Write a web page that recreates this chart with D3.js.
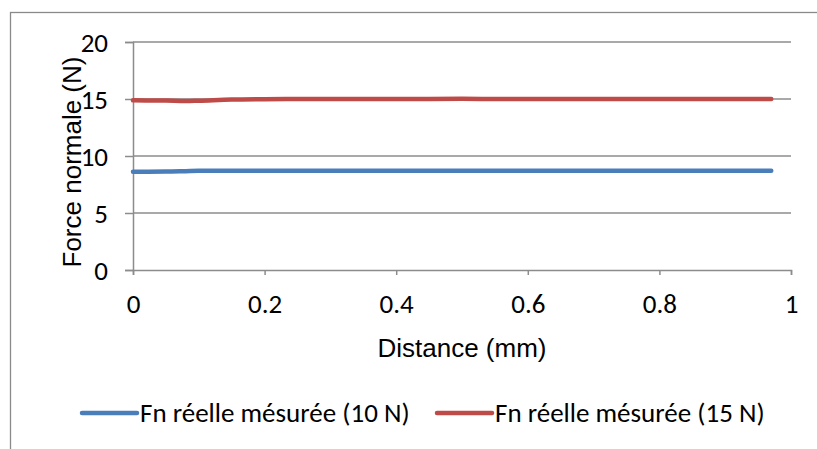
<!DOCTYPE html>
<html>
<head>
<meta charset="utf-8">
<script src="https://cdn.jsdelivr.net/npm/d3@7"></script>
<style>
  body { margin: 0; background: #fff; }
  svg { display: block; }
</style>
</head>
<body>
<svg id="chart"></svg>
<script>
// data
var distance = [0, 0.05, 0.08, 0.1, 0.15, 0.2, 0.3, 0.4, 0.5, 0.56, 0.6, 0.7, 0.8, 0.9, 0.97];
var fn10 = [8.62, 8.63, 8.67, 8.7, 8.7, 8.7, 8.7, 8.7, 8.7, 8.7, 8.7, 8.7, 8.7, 8.7, 8.7];
var fn15 = [14.88, 14.86, 14.82, 14.85, 14.95, 14.98, 15.0, 15.0, 15.02, 14.99, 15.0, 15.0, 15.0, 15.0, 15.0];
var seriesNames = ["Fn réelle mésurée (10 N)", "Fn réelle mésurée (15 N)"];
var seriesColors = ["#4a7ebb", "#be4b48"];
var xTicks = [0, 0.2, 0.4, 0.6, 0.8, 1];
var yTicks = [0, 5, 10, 15, 20];

var width = 817,
    height = 449;
var margin = {left: 133, top: 42, right: 26, bottom: 179};

var svg = d3.select("#chart")
    .attr("width", width)
    .attr("height", height);

// outer chart frame (runs off the right and bottom edges)
svg.append("rect")
    .attr("x", 10.5).attr("y", 12.5)
    .attr("width", 820).attr("height", 450)
    .attr("fill", "none")
    .attr("stroke", "#8a8a8a")
    .attr("stroke-width", 1.3);

var x = d3.scaleLinear().domain([0, 1]).range([margin.left, width - margin.right]);
var y = d3.scaleLinear().domain([0, 20]).range([height - margin.bottom, margin.top]);

var tickFont = "Carlito, Lato, sans-serif";
var titleFont = "'Liberation Sans', Arial, sans-serif";
var tickSize = 27;

// horizontal gridlines
svg.append("g")
    .selectAll("line")
    .data(yTicks.slice(1))
    .enter().append("line")
    .attr("x1", x(0)).attr("x2", x(1))
    .attr("y1", function(d) { return y(d); })
    .attr("y2", function(d) { return y(d); })
    .attr("stroke", "#8c8c8c")
    .attr("stroke-width", 1.5);

// y axis
var yAxis = svg.append("g")
    .attr("transform", "translate(" + x(0) + ",0)")
    .call(d3.axisLeft(y).tickValues(yTicks).tickSize(8).tickPadding(17));
yAxis.select(".domain").attr("stroke", "#8c8c8c").attr("stroke-width", 1.5);
yAxis.selectAll(".tick line").attr("stroke", "#8c8c8c").attr("stroke-width", 1.5);
yAxis.selectAll(".tick text")
    .attr("font-family", tickFont).attr("font-size", tickSize).attr("fill", "#000")
    .attr("dy", "0.35em");

// x axis
var xAxis = svg.append("g")
    .attr("transform", "translate(0," + y(0) + ")")
    .call(d3.axisBottom(x).tickValues(xTicks).tickSize(5).tickPadding(19)
        .tickFormat(function(d) { return d3.format("")(d); }));
xAxis.select(".domain").attr("stroke", "#8c8c8c").attr("stroke-width", 1.5);
xAxis.selectAll(".tick line").attr("stroke", "#8c8c8c").attr("stroke-width", 1.5);
xAxis.selectAll(".tick text")
    .attr("font-family", tickFont).attr("font-size", tickSize).attr("fill", "#000");

// axis titles
svg.append("text")
    .attr("x", (x(0) + x(1)) / 2)
    .attr("y", 357)
    .attr("text-anchor", "middle")
    .attr("font-family", titleFont).attr("font-size", 26)
    .text("Distance (mm)");

svg.append("text")
    .attr("transform", "translate(81," + ((y(0) + y(20)) / 2 + 6) + ") rotate(-90)")
    .attr("text-anchor", "middle")
    .attr("font-family", titleFont).attr("font-size", 26)
    .text("Force normale (N)");

// lines
var line = d3.line()
    .x(function(d) { return x(d[0]); })
    .y(function(d) { return y(d[1]); })
    .curve(d3.curveMonotoneX);

[fn10, fn15].forEach(function(vals, i) {
    svg.append("path")
        .datum(distance.map(function(d, j) { return [d, vals[j]]; }))
        .attr("fill", "none")
        .attr("stroke", seriesColors[i])
        .attr("stroke-width", 4.5)
        .attr("stroke-linecap", "round")
        .attr("d", line);
});

// legend
var legendX = [82, 437];
var legend = svg.append("g");
seriesNames.forEach(function(name, i) {
    legend.append("line")
        .attr("x1", legendX[i]).attr("x2", legendX[i] + 55)
        .attr("y1", 413).attr("y2", 413)
        .attr("stroke", seriesColors[i])
        .attr("stroke-width", 4.5)
        .attr("stroke-linecap", "round");
    legend.append("text")
        .attr("x", legendX[i] + 58)
        .attr("y", 413)
        .attr("dy", "0.35em")
        .attr("font-family", tickFont).attr("font-size", tickSize)
        .text(name);
});
</script>
</body>
</html>
